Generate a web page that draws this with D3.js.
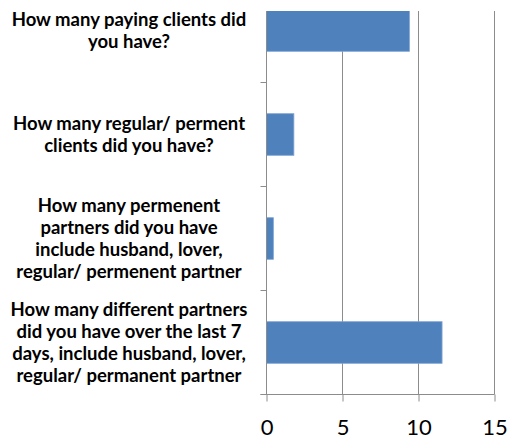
<!DOCTYPE html>
<html>
<head>
<meta charset="utf-8">
<script src="https://cdn.jsdelivr.net/npm/d3@7"></script>
<style>
  body { margin: 0; background: #fff; }
  svg { display: block; }
</style>
</head>
<body>
<div id="chart"></div>
<script>
var categories = [
  "How many paying clients did\nyou have?",
  "How many regular/ perment\nclients did you have?",
  "How many permenent\npartners did you have\ninclude husband, lover,\nregular/ permenent partner",
  "How many different partners\ndid you have over the last 7\ndays, include husband, lover,\nregular/ permanent partner"
];
var values = [9.4, 1.8, 0.45, 11.55];
var xTicks = [0, 5, 10, 15];

var width = 509, height = 443;
var plotTop = 11, plotBottom = 394.5;
var step = 104;

var svg = d3.select("#chart").append("svg")
  .attr("width", width)
  .attr("height", height);

svg.append("rect")
  .attr("width", width)
  .attr("height", height)
  .attr("fill", "#fff");

var x = d3.scaleLinear()
  .domain([0, 15])
  .range([266.5, 494.5]);

// the plot area is cut off at the top, so the first band starts above the picture
var y = d3.scaleBand()
  .domain(categories)
  .range([plotBottom - step * categories.length, plotBottom])
  .paddingInner(0.6)
  .paddingOuter(0.3);

svg.append("clipPath")
  .attr("id", "plotClip")
  .append("rect")
  .attr("x", 0)
  .attr("y", plotTop)
  .attr("width", width)
  .attr("height", plotBottom - plotTop);

// gridlines
svg.append("g")
  .selectAll("line")
  .data(xTicks.slice(1))
  .enter().append("line")
  .attr("x1", function(d) { return x(d); })
  .attr("x2", function(d) { return x(d); })
  .attr("y1", plotTop)
  .attr("y2", plotBottom)
  .attr("stroke", "#8c8c8c")
  .attr("stroke-width", 1);

// bars
svg.append("g")
  .attr("clip-path", "url(#plotClip)")
  .selectAll("rect")
  .data(values)
  .enter().append("rect")
  .attr("x", x(0))
  .attr("y", function(d, i) { return y(categories[i]); })
  .attr("width", function(d) { return x(d) - x(0); })
  .attr("height", y.bandwidth())
  .attr("fill", "#4f81bd")
  .attr("stroke", "#7ea3d3")
  .attr("stroke-width", 0.8);

// x axis
var xAxis = svg.append("g")
  .attr("transform", "translate(0," + plotBottom + ")")
  .call(d3.axisBottom(x).tickValues(xTicks).tickSize(7).tickPadding(18).tickFormat(d3.format("d")));
xAxis.select(".domain").attr("stroke", "#8c8c8c").attr("d", "M" + (x(0) - 6) + ",0H" + x(15));
xAxis.selectAll(".tick line").attr("stroke", "#8c8c8c");
xAxis.selectAll(".tick text")
  .attr("fill", "#000")
  .style("font-family", "Lato, 'Open Sans', sans-serif")
  .style("font-size", "22px");

// y axis line and category separators
svg.append("line")
  .attr("x1", x(0)).attr("x2", x(0))
  .attr("y1", plotTop).attr("y2", plotBottom)
  .attr("stroke", "#8c8c8c");

var outer = y.step() * y.paddingOuter();
svg.append("g")
  .selectAll("line")
  .data(categories)
  .enter().append("line")
  .attr("x1", x(0) - 6)
  .attr("x2", x(0))
  .attr("y1", function(d) { return y(d) + y.bandwidth() + outer; })
  .attr("y2", function(d) { return y(d) + y.bandwidth() + outer; })
  .attr("stroke", "#8c8c8c");

// category labels
var lineHeight = 22;
var labels = svg.append("g")
  .selectAll("text")
  .data(categories)
  .enter().append("text")
  .attr("text-anchor", "middle")
  .attr("fill", "#000")
  .style("font-family", "Lato, 'Open Sans', sans-serif")
  .style("font-weight", "bold")
  .style("font-size", "18.5px");

labels.each(function(d) {
  var lines = d.split("\n");
  var cy = y(d) + y.bandwidth() / 2;
  var t = d3.select(this);
  lines.forEach(function(l, i) {
    t.append("tspan")
      .attr("x", 129)
      .attr("y", cy + (i - (lines.length - 1) / 2) * lineHeight + 6.5)
      .text(l);
  });
});
</script>
</body>
</html>
